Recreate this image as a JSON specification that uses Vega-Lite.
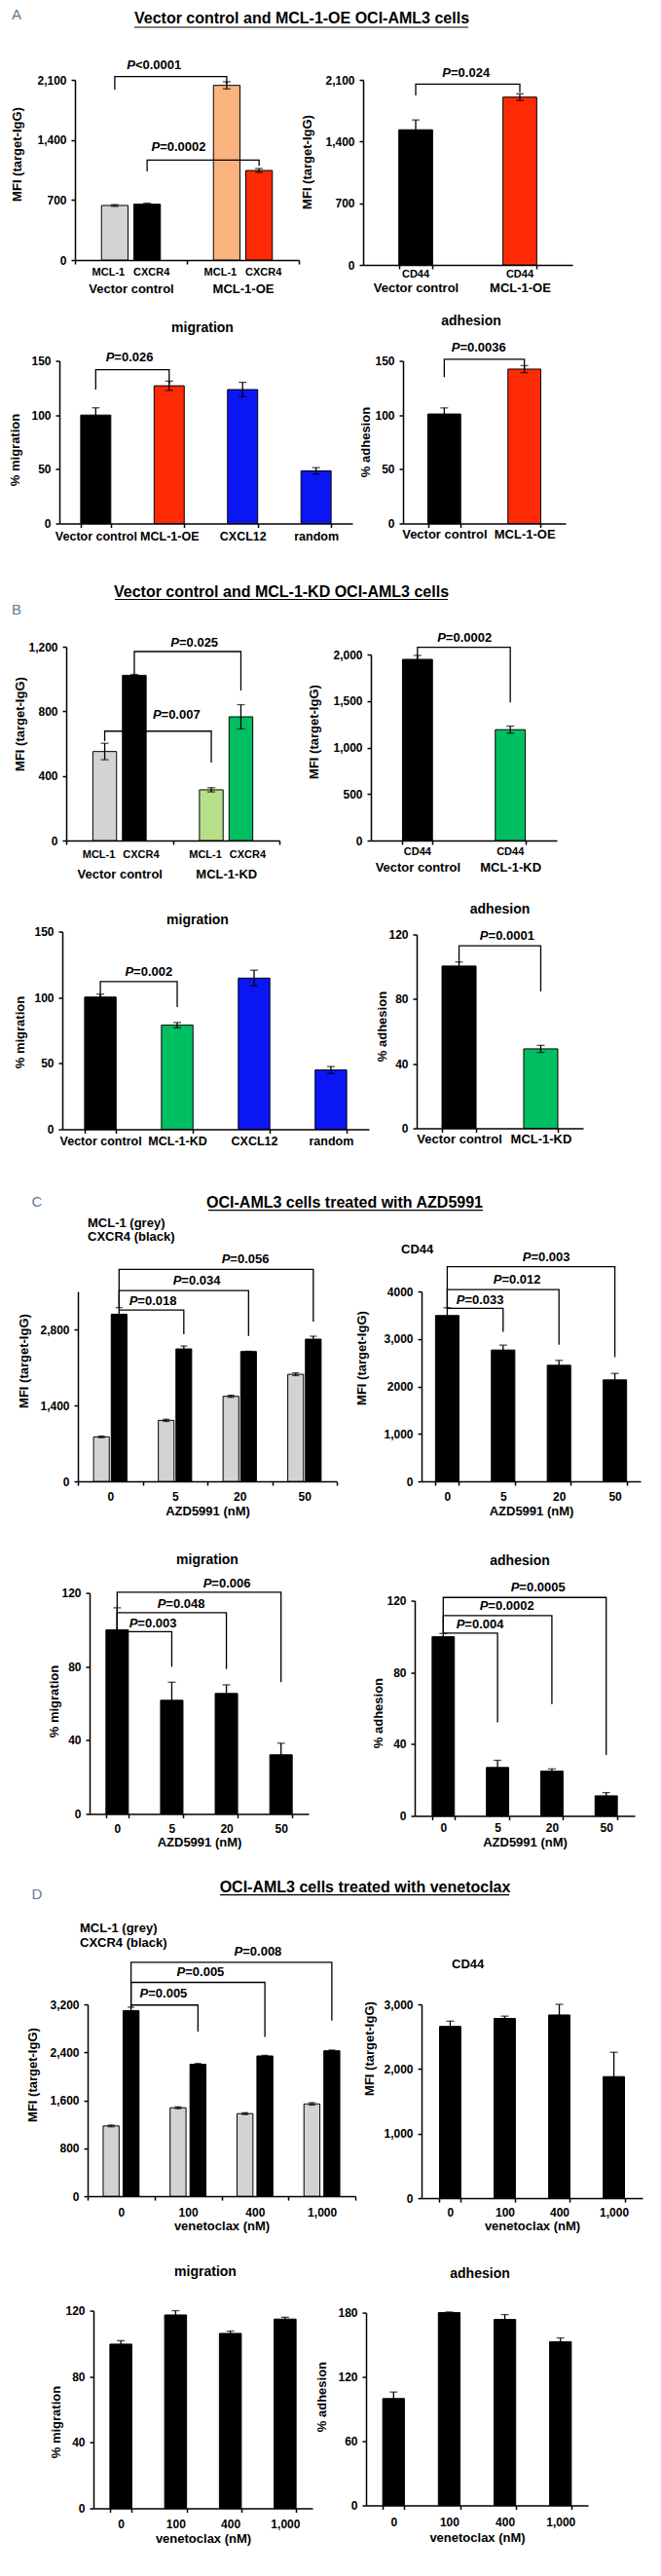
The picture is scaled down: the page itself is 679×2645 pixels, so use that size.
{
"$schema":"https://vega.github.io/schema/vega-lite/v6.json",
"padding":0,"background":"white","spacing":0.01,
"resolve":{"scale":{"xOffset":"independent"}},
"config":{
"font":"Liberation Sans","view":{"stroke":null},
"axis":{"grid":false,"domainColor":"#000","domainWidth":1.5,"tickColor":"#000","tickWidth":1.5,"tickSize":4,"labelColor":"#000","labelFont":"Liberation Sans","labelFontSize":12,"labelFontWeight":"bold","titleColor":"#000","titleFont":"Liberation Sans","titleFontSize":13,"titleFontWeight":"bold","labelPadding":5},
"axisX":{"labelAngle":0,"tickBand":"extent","labelFontSize":13,"labelOverlap":false,"labelLimit":0,"titleBaseline":"middle"},
"axisY":{"titleBaseline":"middle","titleAlign":"center","labelOverlap":false},
"title":{"font":"Liberation Sans","fontSize":14,"fontWeight":"bold","color":"#000","frame":"group"},
"text":{"font":"Liberation Sans","fontSize":13,"fontWeight":"bold","color":"#000"},
"bar":{"stroke":"#000","strokeWidth":1},
"rule":{"color":"#000","strokeWidth":1.3},
"line":{"color":"#000","strokeWidth":1.3},
"tick":{"color":"#000","thickness":1.3}
},
"vconcat":[
{"width":679,"height":60.5,"data":{"values":[{"panel":"A","heading":"Vector control and MCL-1-OE OCI-AML3 cells"}]},
"layer":[
{"mark":{"type":"text","fontSize":15,"fontWeight":"normal","color":"#5b7b9a"},"encoding":{"x":{"datum":17,"type":"quantitative","scale":{"domain":[0,679],"nice":false,"zero":false},"axis":null},"y":{"datum":15,"type":"quantitative","scale":{"domain":[0,60.5],"nice":false,"zero":false,"reverse":true},"axis":null},"text":{"field":"panel"}}},
{"mark":{"type":"text","fontSize":16},"encoding":{"x":{"datum":310,"type":"quantitative"},"y":{"datum":19,"type":"quantitative"},"text":{"field":"heading"}}},
{"mark":{"type":"rule","strokeWidth":1.2},"encoding":{"x":{"datum":138,"type":"quantitative"},"x2":{"datum":481},"y":{"datum":28,"type":"quantitative"}}}
]},
{"spacing":18.5,"vconcat":[
{"bounds":"flush","spacing":0.01,"hconcat":[
{"width":77,"height":1,"data":{"values":[]},"mark":"point","encoding":{}},
{"bounds":"flush","spacing":66,"hconcat":[
{"width":230,"height":185,
"encoding":{"x":{"field":"group","type":"nominal","sort":null,"title":null,"scale":{"domain":["Vector control","MCL-1-OE"],"paddingInner":0,"paddingOuter":0},"axis":{"labelPadding":19.5}},
"xOffset":{"field":"marker","type":"nominal","sort":null,"scale":{"domain":["MCL-1","CXCR4"],"paddingInner":0.18,"paddingOuter":0.82}}},
"layer":[
{"data":{"values":[
{"group":"Vector control","marker":"MCL-1","mfi":636,"lo":626,"hi":646},
{"group":"Vector control","marker":"CXCR4","mfi":651,"lo":639,"hi":663},
{"group":"MCL-1-OE","marker":"MCL-1","mfi":2036,"lo":1994,"hi":2078},
{"group":"MCL-1-OE","marker":"CXCR4","mfi":1044,"lo":1021,"hi":1067}]},
"layer":[
{"mark":"bar","encoding":{"y":{"field":"mfi","type":"quantitative","title":"MFI (target-IgG)","scale":{"domain":[0,2100],"nice":false},"axis":{"values":[0,700,1400,2100],"labelExpr":"format(datum.value, ',')","titleX":-60,"titleY":76}},"color":{"condition":[{"test":"datum.group === 'Vector control' && datum.marker === 'MCL-1'","value":"#d3d3d3"},{"test":"datum.group === 'MCL-1-OE' && datum.marker === 'MCL-1'","value":"#fab27f"},{"test":"datum.group === 'MCL-1-OE' && datum.marker === 'CXCR4'","value":"#ff2b06"}],"value":"#000000"}}},
{"mark":"rule","encoding":{"y":{"field":"lo","type":"quantitative","title":"MFI (target-IgG)"},"y2":{"field":"hi"}}},
{"mark":{"type":"tick","orient":"horizontal","size":8},"encoding":{"y":{"field":"lo","type":"quantitative","title":"MFI (target-IgG)"}}},
{"mark":{"type":"tick","orient":"horizontal","size":8},"encoding":{"y":{"field":"hi","type":"quantitative","title":"MFI (target-IgG)"}}},
{"transform":[{"filter":"datum.marker === 'MCL-1'"}],"mark":{"type":"text","dy":13,"dx":-6.5,"fontSize":11},"encoding":{"y":{"datum":0,"type":"quantitative","title":"MFI (target-IgG)"},"text":{"field":"marker"}}},
{"transform":[{"filter":"datum.marker === 'CXCR4'"}],"mark":{"type":"text","dy":13,"dx":4.5,"fontSize":11},"encoding":{"y":{"datum":0,"type":"quantitative","title":"MFI (target-IgG)"},"text":{"field":"marker"}}}
]},
{"data":{"values":[
{"bracket":1,"group":"Vector control","marker":"MCL-1","level":1987,"step":1},
{"bracket":1,"group":"Vector control","marker":"MCL-1","level":2138,"step":2},
{"bracket":1,"group":"MCL-1-OE","marker":"MCL-1","level":2138,"step":3},
{"bracket":1,"group":"MCL-1-OE","marker":"MCL-1","level":2051,"step":4},
{"bracket":2,"group":"Vector control","marker":"CXCR4","level":1033,"step":1},
{"bracket":2,"group":"Vector control","marker":"CXCR4","level":1165,"step":2},
{"bracket":2,"group":"MCL-1-OE","marker":"CXCR4","level":1165,"step":3},
{"bracket":2,"group":"MCL-1-OE","marker":"CXCR4","level":1097,"step":4}]},
"mark":"line","encoding":{"y":{"field":"level","type":"quantitative","title":"MFI (target-IgG)"},"detail":{"field":"bracket"},"order":{"field":"step"}}},
{"data":{"values":[{"group":"Vector control","marker":"MCL-1","level":2270,"p":"<0.0001"}]},"layer":[
{"mark":{"type":"text","align":"right","fontStyle":"italic","dx":21},"encoding":{"y":{"field":"level","type":"quantitative","title":"MFI (target-IgG)"},"text":{"value":"P"}}},
{"mark":{"type":"text","align":"left","dx":21},"encoding":{"y":{"field":"level","type":"quantitative","title":"MFI (target-IgG)"},"text":{"field":"p"}}}]},
{"data":{"values":[{"group":"Vector control","marker":"CXCR4","level":1313,"p":"=0.0002"}]},"layer":[
{"mark":{"type":"text","align":"right","fontStyle":"italic","dx":13},"encoding":{"y":{"field":"level","type":"quantitative","title":"MFI (target-IgG)"},"text":{"value":"P"}}},
{"mark":{"type":"text","align":"left","dx":13},"encoding":{"y":{"field":"level","type":"quantitative","title":"MFI (target-IgG)"},"text":{"field":"p"}}}]}
]},
{"width":215,"height":190,
"encoding":{"x":{"field":"group","type":"nominal","sort":null,"title":null,"scale":{"domain":["Vector control","MCL-1-OE"],"paddingInner":0.676,"paddingOuter":0.343},"axis":{"labelPadding":13.5}}},
"layer":[
{"data":{"values":[
{"group":"Vector control","marker":"CD44","mfi":1534,"lo":1423,"hi":1645},
{"group":"MCL-1-OE","marker":"CD44","mfi":1904,"lo":1865,"hi":1943}]},
"layer":[
{"mark":"bar","encoding":{"y":{"field":"mfi","type":"quantitative","title":"MFI (target-IgG)","scale":{"domain":[0,2100],"nice":false},"axis":{"values":[0,700,1400,2100],"labelExpr":"format(datum.value, ',')","titleX":-58,"titleY":84}},"color":{"condition":[{"test":"datum.group === 'MCL-1-OE'","value":"#ff2b06"}],"value":"#000000"}}},
{"mark":"rule","encoding":{"y":{"field":"lo","type":"quantitative","title":"MFI (target-IgG)"},"y2":{"field":"hi"}}},
{"mark":{"type":"tick","orient":"horizontal","size":8},"encoding":{"y":{"field":"lo","type":"quantitative","title":"MFI (target-IgG)"}}},
{"mark":{"type":"tick","orient":"horizontal","size":8},"encoding":{"y":{"field":"hi","type":"quantitative","title":"MFI (target-IgG)"}}},
{"mark":{"type":"text","dy":10,"fontSize":11},"encoding":{"y":{"datum":0,"type":"quantitative","title":"MFI (target-IgG)"},"text":{"field":"marker"}}}
]},
{"data":{"values":[
{"bracket":1,"group":"Vector control","level":1922,"step":1},
{"bracket":1,"group":"Vector control","level":2052,"step":2},
{"bracket":1,"group":"MCL-1-OE","level":2052,"step":3},
{"bracket":1,"group":"MCL-1-OE","level":1959,"step":4}]},
"mark":"line","encoding":{"y":{"field":"level","type":"quantitative","title":"MFI (target-IgG)"},"detail":{"field":"bracket"},"order":{"field":"step"}}},
{"data":{"values":[{"group":"Vector control","level":2181,"p":"=0.024"}]},"layer":[
{"mark":{"type":"text","align":"right","fontStyle":"italic","dx":36},"encoding":{"y":{"field":"level","type":"quantitative","title":"MFI (target-IgG)"},"text":{"value":"P"}}},
{"mark":{"type":"text","align":"left","dx":36},"encoding":{"y":{"field":"level","type":"quantitative","title":"MFI (target-IgG)"},"text":{"field":"p"}}}]}
]}
]}
]},
{"bounds":"flush","spacing":0.01,"hconcat":[
{"width":61,"height":1,"data":{"values":[]},"mark":"point","encoding":{}},
{"bounds":"flush","spacing":52,"hconcat":[
{"width":301,"height":167,"title":{"text":"migration","anchor":"middle","offset":16.7,"dx":-3.5},
"encoding":{"x":{"field":"group","type":"nominal","sort":null,"title":null,"scale":{"domain":["Vector control","MCL-1-OE","CXCL12","random"],"paddingInner":0.59,"paddingOuter":0.29},"axis":{"labelPadding":2.5,"labelFontSize":12.5}}},
"layer":[
{"data":{"values":[
{"group":"Vector control","pct":100,"lo":93.3,"hi":106.7},
{"group":"MCL-1-OE","pct":127,"lo":122.7,"hi":131.3},
{"group":"CXCL12","pct":123.5,"lo":116.8,"hi":130.2},
{"group":"random","pct":48.5,"lo":45.5,"hi":51.5}]},
"layer":[
{"mark":"bar","encoding":{"y":{"field":"pct","type":"quantitative","title":"% migration","scale":{"domain":[0,150],"nice":false},"axis":{"values":[0,50,100,150],"titleX":-46,"titleY":91}},"color":{"condition":[{"test":"datum.group === 'MCL-1-OE'","value":"#ff2b06"},{"test":"datum.group === 'CXCL12' || datum.group === 'random'","value":"#0b16f5"}],"value":"#000000"}}},
{"mark":"rule","encoding":{"y":{"field":"lo","type":"quantitative","title":"% migration"},"y2":{"field":"hi"}}},
{"mark":{"type":"tick","orient":"horizontal","size":8},"encoding":{"y":{"field":"lo","type":"quantitative","title":"% migration"}}},
{"mark":{"type":"tick","orient":"horizontal","size":8},"encoding":{"y":{"field":"hi","type":"quantitative","title":"% migration"}}}
]},
{"data":{"values":[
{"bracket":1,"group":"Vector control","level":123.5,"step":1},
{"bracket":1,"group":"Vector control","level":141.8,"step":2},
{"bracket":1,"group":"MCL-1-OE","level":141.8,"step":3},
{"bracket":1,"group":"MCL-1-OE","level":128.7,"step":4}]},
"mark":"line","encoding":{"y":{"field":"level","type":"quantitative","title":"% migration"},"detail":{"field":"bracket"},"order":{"field":"step"}}},
{"data":{"values":[{"group":"Vector control","level":153,"p":"=0.026"}]},"layer":[
{"mark":{"type":"text","align":"right","fontStyle":"italic","dx":19},"encoding":{"y":{"field":"level","type":"quantitative","title":"% migration"},"text":{"value":"P"}}},
{"mark":{"type":"text","align":"left","dx":19},"encoding":{"y":{"field":"level","type":"quantitative","title":"% migration"},"text":{"field":"p"}}}]}
]},
{"width":167,"height":167,"title":{"text":"adhesion","anchor":"middle","offset":14.6,"dx":-13.5},
"encoding":{"x":{"field":"group","type":"nominal","sort":null,"title":null,"scale":{"domain":["Vector control","MCL-1-OE"],"paddingInner":0.59,"paddingOuter":0.31},"axis":{"labelPadding":0.5}}},
"layer":[
{"data":{"values":[
{"group":"Vector control","pct":101,"lo":95.4,"hi":106.6},
{"group":"MCL-1-OE","pct":142.4,"lo":139.2,"hi":145.6}]},
"layer":[
{"mark":"bar","encoding":{"y":{"field":"pct","type":"quantitative","title":"% adhesion","scale":{"domain":[0,150],"nice":false},"axis":{"values":[0,50,100,150],"titleX":-39,"titleY":83}},"color":{"condition":[{"test":"datum.group === 'MCL-1-OE'","value":"#ff2b06"}],"value":"#000000"}}},
{"mark":"rule","encoding":{"y":{"field":"lo","type":"quantitative","title":"% adhesion"},"y2":{"field":"hi"}}},
{"mark":{"type":"tick","orient":"horizontal","size":8},"encoding":{"y":{"field":"lo","type":"quantitative","title":"% adhesion"}}},
{"mark":{"type":"tick","orient":"horizontal","size":8},"encoding":{"y":{"field":"hi","type":"quantitative","title":"% adhesion"}}}
]},
{"data":{"values":[
{"bracket":1,"group":"Vector control","level":135,"step":1},
{"bracket":1,"group":"Vector control","level":151.5,"step":2},
{"bracket":1,"group":"MCL-1-OE","level":151.5,"step":3},
{"bracket":1,"group":"MCL-1-OE","level":143,"step":4}]},
"mark":"line","encoding":{"y":{"field":"level","type":"quantitative","title":"% adhesion"},"detail":{"field":"bracket"},"order":{"field":"step"}}},
{"data":{"values":[{"group":"Vector control","level":162,"p":"=0.0036"}]},"layer":[
{"mark":{"type":"text","align":"right","fontStyle":"italic","dx":16},"encoding":{"y":{"field":"level","type":"quantitative","title":"% adhesion"},"text":{"value":"P"}}},
{"mark":{"type":"text","align":"left","dx":16},"encoding":{"y":{"field":"level","type":"quantitative","title":"% adhesion"},"text":{"field":"p"}}}]}
]}
]}
]}
]},
{"width":679,"height":92,"data":{"values":[{"panel":"B","heading":"Vector control and MCL-1-KD OCI-AML3 cells"}]},
"layer":[
{"mark":{"type":"text","fontSize":15,"fontWeight":"normal","color":"#5b7b9a"},"encoding":{"x":{"datum":17,"type":"quantitative","scale":{"domain":[0,679],"nice":false,"zero":false},"axis":null},"y":{"datum":68.5,"type":"quantitative","scale":{"domain":[0,92],"nice":false,"zero":false,"reverse":true},"axis":null},"text":{"field":"panel"}}},
{"mark":{"type":"text","fontSize":16},"encoding":{"x":{"datum":289,"type":"quantitative"},"y":{"datum":50.5,"type":"quantitative"},"text":{"field":"heading"}}},
{"mark":{"type":"rule","strokeWidth":1.2},"encoding":{"x":{"datum":118,"type":"quantitative"},"x2":{"datum":460},"y":{"datum":58.5,"type":"quantitative"}}}
]},
{"spacing":21.5,"vconcat":[
{"bounds":"flush","spacing":0.01,"hconcat":[
{"width":68,"height":1,"data":{"values":[]},"mark":"point","encoding":{}},
{"bounds":"flush","spacing":94,"hconcat":[
{"width":219,"height":199,
"encoding":{"x":{"field":"group","type":"nominal","sort":null,"title":null,"scale":{"domain":["Vector control","MCL-1-KD"],"paddingInner":0,"paddingOuter":0},"axis":{"labelPadding":24.5}},
"xOffset":{"field":"marker","type":"nominal","sort":null,"scale":{"domain":["MCL-1","CXCR4"],"paddingInner":0.2,"paddingOuter":0.9}}},
"layer":[
{"data":{"values":[
{"group":"Vector control","marker":"MCL-1","mfi":551,"lo":500,"hi":602},
{"group":"Vector control","marker":"CXCR4","mfi":1023,"lo":1018,"hi":1028},
{"group":"MCL-1-KD","marker":"MCL-1","mfi":314,"lo":301,"hi":327},
{"group":"MCL-1-KD","marker":"CXCR4","mfi":766,"lo":691,"hi":841}]},
"layer":[
{"mark":"bar","encoding":{"y":{"field":"mfi","type":"quantitative","title":"MFI (target-IgG)","scale":{"domain":[0,1200],"nice":false},"axis":{"values":[0,400,800,1200],"labelExpr":"format(datum.value, ',')","titleX":-48,"titleY":79}},"color":{"condition":[{"test":"datum.group === 'Vector control' && datum.marker === 'MCL-1'","value":"#d3d3d3"},{"test":"datum.group === 'MCL-1-KD' && datum.marker === 'MCL-1'","value":"#b7df8a"},{"test":"datum.group === 'MCL-1-KD' && datum.marker === 'CXCR4'","value":"#00bf62"}],"value":"#000000"}}},
{"mark":"rule","encoding":{"y":{"field":"lo","type":"quantitative","title":"MFI (target-IgG)"},"y2":{"field":"hi"}}},
{"mark":{"type":"tick","orient":"horizontal","size":8},"encoding":{"y":{"field":"lo","type":"quantitative","title":"MFI (target-IgG)"}}},
{"mark":{"type":"tick","orient":"horizontal","size":8},"encoding":{"y":{"field":"hi","type":"quantitative","title":"MFI (target-IgG)"}}},
{"transform":[{"filter":"datum.marker === 'MCL-1'"}],"mark":{"type":"text","dy":15,"dx":-6,"fontSize":11},"encoding":{"y":{"datum":0,"type":"quantitative","title":"MFI (target-IgG)"},"text":{"field":"marker"}}},
{"transform":[{"filter":"datum.marker === 'CXCR4'"}],"mark":{"type":"text","dy":15,"dx":7,"fontSize":11},"encoding":{"y":{"datum":0,"type":"quantitative","title":"MFI (target-IgG)"},"text":{"field":"marker"}}}
]},
{"data":{"values":[
{"bracket":1,"group":"Vector control","marker":"CXCR4","level":1019,"step":1},
{"bracket":1,"group":"Vector control","marker":"CXCR4","level":1170,"step":2},
{"bracket":1,"group":"MCL-1-KD","marker":"CXCR4","level":1170,"step":3},
{"bracket":1,"group":"MCL-1-KD","marker":"CXCR4","level":929,"step":4},
{"bracket":2,"group":"Vector control","marker":"MCL-1","level":615,"step":1},
{"bracket":2,"group":"Vector control","marker":"MCL-1","level":677,"step":2},
{"bracket":2,"group":"MCL-1-KD","marker":"MCL-1","level":677,"step":3},
{"bracket":2,"group":"MCL-1-KD","marker":"MCL-1","level":483,"step":4}]},
"mark":"line","encoding":{"y":{"field":"level","type":"quantitative","title":"MFI (target-IgG)"},"detail":{"field":"bracket"},"order":{"field":"step"}}},
{"data":{"values":[{"group":"Vector control","marker":"CXCR4","level":1226,"p":"=0.025"}]},"layer":[
{"mark":{"type":"text","align":"right","fontStyle":"italic","dx":46},"encoding":{"y":{"field":"level","type":"quantitative","title":"MFI (target-IgG)"},"text":{"value":"P"}}},
{"mark":{"type":"text","align":"left","dx":46},"encoding":{"y":{"field":"level","type":"quantitative","title":"MFI (target-IgG)"},"text":{"field":"p"}}}]},
{"data":{"values":[{"group":"Vector control","marker":"MCL-1","level":778,"p":"=0.007"}]},"layer":[
{"mark":{"type":"text","align":"right","fontStyle":"italic","dx":58},"encoding":{"y":{"field":"level","type":"quantitative","title":"MFI (target-IgG)"},"text":{"value":"P"}}},
{"mark":{"type":"text","align":"left","dx":58},"encoding":{"y":{"field":"level","type":"quantitative","title":"MFI (target-IgG)"},"text":{"field":"p"}}}]}
]},
{"bounds":"flush","spacing":0.01,"vconcat":[
{"width":1,"height":8,"data":{"values":[]},"mark":"point","encoding":{}},
{"width":191,"height":191,
"encoding":{"x":{"field":"group","type":"nominal","sort":null,"title":null,"scale":{"domain":["Vector control","MCL-1-KD"],"paddingInner":0.677,"paddingOuter":0.34},"axis":{"labelPadding":17.5}}},
"layer":[
{"data":{"values":[
{"group":"Vector control","marker":"CD44","mfi":1948,"lo":1906,"hi":1990},
{"group":"MCL-1-KD","marker":"CD44","mfi":1192,"lo":1154,"hi":1230}]},
"layer":[
{"mark":"bar","encoding":{"y":{"field":"mfi","type":"quantitative","title":"MFI (target-IgG)","scale":{"domain":[0,2000],"nice":false},"axis":{"values":[0,500,1000,1500,2000],"labelExpr":"format(datum.value, ',')","titleX":-59,"titleY":79}},"color":{"condition":[{"test":"datum.group === 'MCL-1-KD'","value":"#00bf62"}],"value":"#000000"}}},
{"mark":"rule","encoding":{"y":{"field":"lo","type":"quantitative","title":"MFI (target-IgG)"},"y2":{"field":"hi"}}},
{"mark":{"type":"tick","orient":"horizontal","size":8},"encoding":{"y":{"field":"lo","type":"quantitative","title":"MFI (target-IgG)"}}},
{"mark":{"type":"tick","orient":"horizontal","size":8},"encoding":{"y":{"field":"hi","type":"quantitative","title":"MFI (target-IgG)"}}},
{"mark":{"type":"text","dy":12,"fontSize":11},"encoding":{"y":{"datum":0,"type":"quantitative","title":"MFI (target-IgG)"},"text":{"field":"marker"}}}
]},
{"data":{"values":[
{"bracket":1,"group":"Vector control","level":1948,"step":1},
{"bracket":1,"group":"Vector control","level":2077,"step":2},
{"bracket":1,"group":"MCL-1-KD","level":2077,"step":3},
{"bracket":1,"group":"MCL-1-KD","level":1486,"step":4}]},
"mark":"line","encoding":{"y":{"field":"level","type":"quantitative","title":"MFI (target-IgG)"},"detail":{"field":"bracket"},"order":{"field":"step"}}},
{"data":{"values":[{"group":"Vector control","level":2175,"p":"=0.0002"}]},"layer":[
{"mark":{"type":"text","align":"right","fontStyle":"italic","dx":29},"encoding":{"y":{"field":"level","type":"quantitative","title":"MFI (target-IgG)"},"text":{"value":"P"}}},
{"mark":{"type":"text","align":"left","dx":29},"encoding":{"y":{"field":"level","type":"quantitative","title":"MFI (target-IgG)"},"text":{"field":"p"}}}]}
]}
]}
]}
]},
{"bounds":"flush","spacing":0.01,"hconcat":[
{"width":64,"height":1,"data":{"values":[]},"mark":"point","encoding":{}},
{"bounds":"flush","spacing":49,"hconcat":[
{"width":315,"height":203,"title":{"text":"migration","anchor":"middle","offset":0,"dy":1.5,"dx":-18.5},
"encoding":{"x":{"field":"group","type":"nominal","sort":null,"title":null,"scale":{"domain":["Vector control","MCL-1-KD","CXCL12","random"],"paddingInner":0.59,"paddingOuter":0.29},"axis":{"labelPadding":1.5,"labelFontSize":12.5}}},
"layer":[
{"data":{"values":[
{"group":"Vector control","pct":100.3,"lo":98.1,"hi":102.5},
{"group":"MCL-1-KD","pct":79,"lo":77,"hi":81},
{"group":"CXCL12","pct":114.7,"lo":108.7,"hi":120.7},
{"group":"random","pct":45,"lo":42.4,"hi":47.6}]},
"layer":[
{"mark":"bar","encoding":{"y":{"field":"pct","type":"quantitative","title":"% migration","scale":{"domain":[0,150],"nice":false},"axis":{"values":[0,50,100,150],"titleX":-44,"titleY":103}},"color":{"condition":[{"test":"datum.group === 'MCL-1-KD'","value":"#00bf62"},{"test":"datum.group === 'CXCL12' || datum.group === 'random'","value":"#0b16f5"}],"value":"#000000"}}},
{"mark":"rule","encoding":{"y":{"field":"lo","type":"quantitative","title":"% migration"},"y2":{"field":"hi"}}},
{"mark":{"type":"tick","orient":"horizontal","size":8},"encoding":{"y":{"field":"lo","type":"quantitative","title":"% migration"}}},
{"mark":{"type":"tick","orient":"horizontal","size":8},"encoding":{"y":{"field":"hi","type":"quantitative","title":"% migration"}}}
]},
{"data":{"values":[
{"bracket":1,"group":"Vector control","level":100,"step":1},
{"bracket":1,"group":"Vector control","level":112,"step":2},
{"bracket":1,"group":"MCL-1-KD","level":112,"step":3},
{"bracket":1,"group":"MCL-1-KD","level":92.7,"step":4}]},
"mark":"line","encoding":{"y":{"field":"level","type":"quantitative","title":"% migration"},"detail":{"field":"bracket"},"order":{"field":"step"}}},
{"data":{"values":[{"group":"Vector control","level":119,"p":"=0.002"}]},"layer":[
{"mark":{"type":"text","align":"right","fontStyle":"italic","dx":34},"encoding":{"y":{"field":"level","type":"quantitative","title":"% migration"},"text":{"value":"P"}}},
{"mark":{"type":"text","align":"left","dx":34},"encoding":{"y":{"field":"level","type":"quantitative","title":"% migration"},"text":{"field":"p"}}}]}
]},
{"bounds":"flush","spacing":0.01,"vconcat":[
{"width":1,"height":3,"data":{"values":[]},"mark":"point","encoding":{}},
{"width":171,"height":199,"title":{"text":"adhesion","anchor":"middle","offset":12.7,"dx":0},
"encoding":{"x":{"field":"group","type":"nominal","sort":null,"title":null,"scale":{"domain":["Vector control","MCL-1-KD"],"paddingInner":0.583,"paddingOuter":0.31},"axis":{"labelPadding":0.5}}},
"layer":[
{"data":{"values":[
{"group":"Vector control","pct":100.5,"lo":98,"hi":103},
{"group":"MCL-1-KD","pct":49.2,"lo":47,"hi":51.4}]},
"layer":[
{"mark":"bar","encoding":{"y":{"field":"pct","type":"quantitative","title":"% adhesion","scale":{"domain":[0,120],"nice":false},"axis":{"values":[0,40,80,120],"titleX":-36,"titleY":94}},"color":{"condition":[{"test":"datum.group === 'MCL-1-KD'","value":"#00bf62"}],"value":"#000000"}}},
{"mark":"rule","encoding":{"y":{"field":"lo","type":"quantitative","title":"% adhesion"},"y2":{"field":"hi"}}},
{"mark":{"type":"tick","orient":"horizontal","size":8},"encoding":{"y":{"field":"lo","type":"quantitative","title":"% adhesion"}}},
{"mark":{"type":"tick","orient":"horizontal","size":8},"encoding":{"y":{"field":"hi","type":"quantitative","title":"% adhesion"}}}
]},
{"data":{"values":[
{"bracket":1,"group":"Vector control","level":102,"step":1},
{"bracket":1,"group":"Vector control","level":113,"step":2},
{"bracket":1,"group":"MCL-1-KD","level":113,"step":3},
{"bracket":1,"group":"MCL-1-KD","level":84.8,"step":4}]},
"mark":"line","encoding":{"y":{"field":"level","type":"quantitative","title":"% adhesion"},"detail":{"field":"bracket"},"order":{"field":"step"}}},
{"data":{"values":[{"group":"Vector control","level":119,"p":"=0.0001"}]},"layer":[
{"mark":{"type":"text","align":"right","fontStyle":"italic","dx":30},"encoding":{"y":{"field":"level","type":"quantitative","title":"% adhesion"},"text":{"value":"P"}}},
{"mark":{"type":"text","align":"left","dx":30},"encoding":{"y":{"field":"level","type":"quantitative","title":"% adhesion"},"text":{"field":"p"}}}]}
]}
]}
]}
]}
]},
{"width":679,"height":70.5,"data":{"values":[{"panel":"C","heading":"OCI-AML3 cells treated with AZD5991"}]},
"layer":[
{"mark":{"type":"text","fontSize":15,"fontWeight":"normal","color":"#5b7b9a"},"encoding":{"x":{"datum":38,"type":"quantitative","scale":{"domain":[0,679],"nice":false,"zero":false},"axis":null},"y":{"datum":55.5,"type":"quantitative","scale":{"domain":[0,70.5],"nice":false,"zero":false,"reverse":true},"axis":null},"text":{"field":"panel"}}},
{"mark":{"type":"text","fontSize":16},"encoding":{"x":{"datum":354,"type":"quantitative"},"y":{"datum":56.5,"type":"quantitative"},"text":{"field":"heading"}}},
{"mark":{"type":"rule","strokeWidth":1.2},"encoding":{"x":{"datum":214,"type":"quantitative"},"x2":{"datum":496},"y":{"datum":64.5,"type":"quantitative"}}}
]},
{"spacing":35.5,"vconcat":[
{"bounds":"flush","spacing":0.01,"hconcat":[
{"width":80,"height":1,"data":{"values":[]},"mark":"point","encoding":{}},
{"bounds":"flush","spacing":87,"hconcat":[
{"width":266,"height":195,"title":{"text":["MCL-1 (grey)","CXCR4 (black)"],"anchor":"start","offset":9.7,"dx":10,"fontSize":13,"lineHeight":14},
"encoding":{"x":{"field":"dose","type":"nominal","sort":null,"title":"AZD5991 (nM)","scale":{"domain":["0","5","20","50"],"paddingInner":0,"paddingOuter":0},"axis":{"labelPadding":6,"labelFontSize":12,"titleY":30}},
"xOffset":{"field":"marker","type":"nominal","sort":null,"scale":{"domain":["MCL-1","CXCR4"],"paddingInner":0.11,"paddingOuter":0.89}}},
"layer":[
{"data":{"values":[
{"dose":"0","marker":"MCL-1","mfi":820,"lo":805,"hi":835},
{"dose":"0","marker":"CXCR4","mfi":3081,"lo":2961,"hi":3201},
{"dose":"5","marker":"MCL-1","mfi":1125,"lo":1105,"hi":1145},
{"dose":"5","marker":"CXCR4","mfi":2441,"lo":2387,"hi":2495},
{"dose":"20","marker":"MCL-1","mfi":1568,"lo":1548,"hi":1588},
{"dose":"20","marker":"CXCR4","mfi":2393,"lo":2388,"hi":2398},
{"dose":"50","marker":"MCL-1","mfi":1974,"lo":1949,"hi":1999},
{"dose":"50","marker":"CXCR4","mfi":2621,"lo":2567,"hi":2675}]},
"layer":[
{"mark":"bar","encoding":{"y":{"field":"mfi","type":"quantitative","title":"MFI (target-IgG)","scale":{"domain":[0,3500],"nice":false},"axis":{"values":[0,700,1400,2100,2800,3500],"labelExpr":"format(datum.value, ',')","titleX":-56,"titleY":71}},"color":{"condition":[{"test":"datum.marker === 'MCL-1'","value":"#d3d3d3"}],"value":"#000000"}}},
{"mark":"rule","encoding":{"y":{"field":"lo","type":"quantitative","title":"MFI (target-IgG)"},"y2":{"field":"hi"}}},
{"mark":{"type":"tick","orient":"horizontal","size":7},"encoding":{"y":{"field":"lo","type":"quantitative","title":"MFI (target-IgG)"}}},
{"mark":{"type":"tick","orient":"horizontal","size":7},"encoding":{"y":{"field":"hi","type":"quantitative","title":"MFI (target-IgG)"}}}
]},
{"data":{"values":[
{"bracket":1,"dose":"0","marker":"CXCR4","level":3159,"step":1},
{"bracket":1,"dose":"5","marker":"CXCR4","level":3159,"step":2},
{"bracket":1,"dose":"5","marker":"CXCR4","level":2710,"step":3},
{"bracket":2,"dose":"0","marker":"CXCR4","level":3201,"step":1},
{"bracket":2,"dose":"0","marker":"CXCR4","level":3518,"step":2},
{"bracket":2,"dose":"20","marker":"CXCR4","level":3518,"step":3},
{"bracket":2,"dose":"20","marker":"CXCR4","level":2680,"step":4},
{"bracket":3,"dose":"0","marker":"CXCR4","level":3201,"step":1},
{"bracket":3,"dose":"0","marker":"CXCR4","level":3907,"step":2},
{"bracket":3,"dose":"50","marker":"CXCR4","level":3907,"step":3},
{"bracket":3,"dose":"50","marker":"CXCR4","level":2943,"step":4}]},
"mark":"line","encoding":{"y":{"field":"level","type":"quantitative","title":"MFI (target-IgG)"},"detail":{"field":"bracket"},"order":{"field":"step"}}},
{"data":{"values":[{"dose":"0","marker":"CXCR4","level":3320,"p":"=0.018"}]},"layer":[
{"mark":{"type":"text","align":"right","fontStyle":"italic","dx":19},"encoding":{"y":{"field":"level","type":"quantitative","title":"MFI (target-IgG)"},"text":{"value":"P"}}},
{"mark":{"type":"text","align":"left","dx":19},"encoding":{"y":{"field":"level","type":"quantitative","title":"MFI (target-IgG)"},"text":{"field":"p"}}}]},
{"data":{"values":[{"dose":"0","marker":"CXCR4","level":3692,"p":"=0.034"}]},"layer":[
{"mark":{"type":"text","align":"right","fontStyle":"italic","dx":64},"encoding":{"y":{"field":"level","type":"quantitative","title":"MFI (target-IgG)"},"text":{"value":"P"}}},
{"mark":{"type":"text","align":"left","dx":64},"encoding":{"y":{"field":"level","type":"quantitative","title":"MFI (target-IgG)"},"text":{"field":"p"}}}]},
{"data":{"values":[{"dose":"0","marker":"CXCR4","level":4098,"p":"=0.056"}]},"layer":[
{"mark":{"type":"text","align":"right","fontStyle":"italic","dx":114},"encoding":{"y":{"field":"level","type":"quantitative","title":"MFI (target-IgG)"},"text":{"value":"P"}}},
{"mark":{"type":"text","align":"left","dx":114},"encoding":{"y":{"field":"level","type":"quantitative","title":"MFI (target-IgG)"},"text":{"field":"p"}}}]}
]},
{"width":225,"height":195,"title":{"text":"CD44","anchor":"start","offset":0,"dy":4.9,"dx":-21,"fontSize":13},
"encoding":{"x":{"field":"dose","type":"nominal","sort":null,"title":"AZD5991 (nM)","scale":{"domain":["0","5","20","50"],"paddingInner":0.58,"paddingOuter":0.25},"axis":{"labelPadding":6,"labelFontSize":12,"titleY":30}}},
"layer":[
{"data":{"values":[
{"dose":"0","mfi":3493,"lo":3329,"hi":3657},
{"dose":"5","mfi":2767,"lo":2664,"hi":2870},
{"dose":"20","mfi":2445,"lo":2342,"hi":2548},
{"dose":"50","mfi":2137,"lo":2000,"hi":2274}]},
"layer":[
{"mark":{"type":"bar","color":"#000"},"encoding":{"y":{"field":"mfi","type":"quantitative","title":"MFI (target-IgG)","scale":{"domain":[0,4000],"nice":false},"axis":{"values":[0,1000,2000,3000,4000],"labelExpr":"datum.value == 4000 || datum.value == 2000 ? '' + datum.value : format(datum.value, ',')","titleX":-62,"titleY":68}}}},
{"mark":"rule","encoding":{"y":{"field":"lo","type":"quantitative","title":"MFI (target-IgG)"},"y2":{"field":"hi"}}},
{"mark":{"type":"tick","orient":"horizontal","size":8},"encoding":{"y":{"field":"hi","type":"quantitative","title":"MFI (target-IgG)"}}}
]},
{"data":{"values":[
{"bracket":1,"dose":"0","level":3644,"step":1},
{"bracket":1,"dose":"5","level":3644,"step":2},
{"bracket":1,"dose":"5","level":3151,"step":3},
{"bracket":2,"dose":"0","level":3644,"step":1},
{"bracket":2,"dose":"0","level":4041,"step":2},
{"bracket":2,"dose":"20","level":4041,"step":3},
{"bracket":2,"dose":"20","level":2877,"step":4},
{"bracket":3,"dose":"0","level":3644,"step":1},
{"bracket":3,"dose":"0","level":4520,"step":2},
{"bracket":3,"dose":"50","level":4520,"step":3},
{"bracket":3,"dose":"50","level":2617,"step":4}]},
"mark":"line","encoding":{"y":{"field":"level","type":"quantitative","title":"MFI (target-IgG)"},"detail":{"field":"bracket"},"order":{"field":"step"}}},
{"data":{"values":[{"dose":"0","level":3815,"p":"=0.033"}]},"layer":[
{"mark":{"type":"text","align":"right","fontStyle":"italic","dx":18},"encoding":{"y":{"field":"level","type":"quantitative","title":"MFI (target-IgG)"},"text":{"value":"P"}}},
{"mark":{"type":"text","align":"left","dx":18},"encoding":{"y":{"field":"level","type":"quantitative","title":"MFI (target-IgG)"},"text":{"field":"p"}}}]},
{"data":{"values":[{"dose":"0","level":4240,"p":"=0.012"}]},"layer":[
{"mark":{"type":"text","align":"right","fontStyle":"italic","dx":56},"encoding":{"y":{"field":"level","type":"quantitative","title":"MFI (target-IgG)"},"text":{"value":"P"}}},
{"mark":{"type":"text","align":"left","dx":56},"encoding":{"y":{"field":"level","type":"quantitative","title":"MFI (target-IgG)"},"text":{"field":"p"}}}]},
{"data":{"values":[{"dose":"0","level":4726,"p":"=0.003"}]},"layer":[
{"mark":{"type":"text","align":"right","fontStyle":"italic","dx":86},"encoding":{"y":{"field":"level","type":"quantitative","title":"MFI (target-IgG)"},"text":{"value":"P"}}},
{"mark":{"type":"text","align":"left","dx":86},"encoding":{"y":{"field":"level","type":"quantitative","title":"MFI (target-IgG)"},"text":{"field":"p"}}}]}
]}
]}
]},
{"bounds":"flush","spacing":0.01,"hconcat":[
{"width":92,"height":1,"data":{"values":[]},"mark":"point","encoding":{}},
{"bounds":"flush","spacing":109,"hconcat":[
{"width":225,"height":227,"title":{"text":"migration","anchor":"middle","offset":11,"dx":8.5},
"encoding":{"x":{"field":"dose","type":"nominal","sort":null,"title":"AZD5991 (nM)","scale":{"domain":["0","5","20","50"],"paddingInner":0.59,"paddingOuter":0.3},"axis":{"labelPadding":6,"labelFontSize":12,"titleY":29}}},
"layer":[
{"data":{"values":[
{"dose":"0","pct":100,"lo":88.1,"hi":111.9},
{"dose":"5","pct":61.7,"lo":51.9,"hi":71.5},
{"dose":"20","pct":65.4,"lo":60.7,"hi":70.1},
{"dose":"50","pct":32.1,"lo":25.8,"hi":38.4}]},
"layer":[
{"mark":{"type":"bar","color":"#000"},"encoding":{"y":{"field":"pct","type":"quantitative","title":"% migration","scale":{"domain":[0,120],"nice":false},"axis":{"values":[0,40,80,120],"titleX":-37,"titleY":111}}}},
{"mark":"rule","encoding":{"y":{"field":"lo","type":"quantitative","title":"% migration"},"y2":{"field":"hi"}}},
{"mark":{"type":"tick","orient":"horizontal","size":8},"encoding":{"y":{"field":"hi","type":"quantitative","title":"% migration"}}}
]},
{"data":{"values":[
{"bracket":1,"dose":"0","level":98.9,"step":1},
{"bracket":1,"dose":"5","level":98.9,"step":2},
{"bracket":1,"dose":"5","level":79.8,"step":3},
{"bracket":2,"dose":"0","level":100,"step":1},
{"bracket":2,"dose":"0","level":109.3,"step":2},
{"bracket":2,"dose":"20","level":109.3,"step":3},
{"bracket":2,"dose":"20","level":78.6,"step":4},
{"bracket":3,"dose":"0","level":100,"step":1},
{"bracket":3,"dose":"0","level":120.4,"step":2},
{"bracket":3,"dose":"50","level":120.4,"step":3},
{"bracket":3,"dose":"50","level":71.5,"step":4}]},
"mark":"line","encoding":{"y":{"field":"level","type":"quantitative","title":"% migration"},"detail":{"field":"bracket"},"order":{"field":"step"}}},
{"data":{"values":[{"dose":"0","level":103.3,"p":"=0.003"}]},"layer":[
{"mark":{"type":"text","align":"right","fontStyle":"italic","dx":21},"encoding":{"y":{"field":"level","type":"quantitative","title":"% migration"},"text":{"value":"P"}}},
{"mark":{"type":"text","align":"left","dx":21},"encoding":{"y":{"field":"level","type":"quantitative","title":"% migration"},"text":{"field":"p"}}}]},
{"data":{"values":[{"dose":"0","level":114.2,"p":"=0.048"}]},"layer":[
{"mark":{"type":"text","align":"right","fontStyle":"italic","dx":50},"encoding":{"y":{"field":"level","type":"quantitative","title":"% migration"},"text":{"value":"P"}}},
{"mark":{"type":"text","align":"left","dx":50},"encoding":{"y":{"field":"level","type":"quantitative","title":"% migration"},"text":{"field":"p"}}}]},
{"data":{"values":[{"dose":"0","level":125.3,"p":"=0.006"}]},"layer":[
{"mark":{"type":"text","align":"right","fontStyle":"italic","dx":97},"encoding":{"y":{"field":"level","type":"quantitative","title":"% migration"},"text":{"value":"P"}}},
{"mark":{"type":"text","align":"left","dx":97},"encoding":{"y":{"field":"level","type":"quantitative","title":"% migration"},"text":{"field":"p"}}}]}
]},
{"bounds":"flush","spacing":0.01,"vconcat":[
{"width":1,"height":8,"data":{"values":[]},"mark":"point","encoding":{}},
{"width":226,"height":221,"title":{"text":"adhesion","anchor":"middle","offset":14.6,"dx":-5},
"encoding":{"x":{"field":"dose","type":"nominal","sort":null,"title":"AZD5991 (nM)","scale":{"domain":["0","5","20","50"],"paddingInner":0.59,"paddingOuter":0.32},"axis":{"labelPadding":3,"labelFontSize":12,"titleY":27}}},
"layer":[
{"data":{"values":[
{"dose":"0","pct":99.9,"lo":98.1,"hi":101.7},
{"dose":"5","pct":27,"lo":23,"hi":31},
{"dose":"20","pct":25,"lo":23.8,"hi":26.2},
{"dose":"50","pct":11.2,"lo":9.4,"hi":13}]},
"layer":[
{"mark":{"type":"bar","color":"#000"},"encoding":{"y":{"field":"pct","type":"quantitative","title":"% adhesion","scale":{"domain":[0,120],"nice":false},"axis":{"values":[0,40,80,120],"titleX":-38,"titleY":115}}}},
{"mark":"rule","encoding":{"y":{"field":"lo","type":"quantitative","title":"% adhesion"},"y2":{"field":"hi"}}},
{"mark":{"type":"tick","orient":"horizontal","size":8},"encoding":{"y":{"field":"hi","type":"quantitative","title":"% adhesion"}}}
]},
{"data":{"values":[
{"bracket":1,"dose":"0","level":101.9,"step":1},
{"bracket":1,"dose":"5","level":101.9,"step":2},
{"bracket":1,"dose":"5","level":52.1,"step":3},
{"bracket":2,"dose":"0","level":101.7,"step":1},
{"bracket":2,"dose":"0","level":111.7,"step":2},
{"bracket":2,"dose":"20","level":111.7,"step":3},
{"bracket":2,"dose":"20","level":62.4,"step":4},
{"bracket":3,"dose":"0","level":101.7,"step":1},
{"bracket":3,"dose":"0","level":121.8,"step":2},
{"bracket":3,"dose":"50","level":121.8,"step":3},
{"bracket":3,"dose":"50","level":34,"step":4}]},
"mark":"line","encoding":{"y":{"field":"level","type":"quantitative","title":"% adhesion"},"detail":{"field":"bracket"},"order":{"field":"step"}}},
{"data":{"values":[{"dose":"0","level":106.8,"p":"=0.004"}]},"layer":[
{"mark":{"type":"text","align":"right","fontStyle":"italic","dx":22},"encoding":{"y":{"field":"level","type":"quantitative","title":"% adhesion"},"text":{"value":"P"}}},
{"mark":{"type":"text","align":"left","dx":22},"encoding":{"y":{"field":"level","type":"quantitative","title":"% adhesion"},"text":{"field":"p"}}}]},
{"data":{"values":[{"dose":"0","level":117.1,"p":"=0.0002"}]},"layer":[
{"mark":{"type":"text","align":"right","fontStyle":"italic","dx":46},"encoding":{"y":{"field":"level","type":"quantitative","title":"% adhesion"},"text":{"value":"P"}}},
{"mark":{"type":"text","align":"left","dx":46},"encoding":{"y":{"field":"level","type":"quantitative","title":"% adhesion"},"text":{"field":"p"}}}]},
{"data":{"values":[{"dose":"0","level":127.3,"p":"=0.0005"}]},"layer":[
{"mark":{"type":"text","align":"right","fontStyle":"italic","dx":78},"encoding":{"y":{"field":"level","type":"quantitative","title":"% adhesion"},"text":{"value":"P"}}},
{"mark":{"type":"text","align":"left","dx":78},"encoding":{"y":{"field":"level","type":"quantitative","title":"% adhesion"},"text":{"field":"p"}}}]}
]}
]}
]}
]}
]},
{"width":679,"height":73.5,"data":{"values":[{"panel":"D","heading":"OCI-AML3 cells treated with venetoclax"}]},
"layer":[
{"mark":{"type":"text","fontSize":15,"fontWeight":"normal","color":"#5b7b9a"},"encoding":{"x":{"datum":38,"type":"quantitative","scale":{"domain":[0,679],"nice":false,"zero":false},"axis":null},"y":{"datum":45.5,"type":"quantitative","scale":{"domain":[0,73.5],"nice":false,"zero":false,"reverse":true},"axis":null},"text":{"field":"panel"}}},
{"mark":{"type":"text","fontSize":16},"encoding":{"x":{"datum":375,"type":"quantitative"},"y":{"datum":38.5,"type":"quantitative"},"text":{"field":"heading"}}},
{"mark":{"type":"rule","strokeWidth":1.2},"encoding":{"x":{"datum":226,"type":"quantitative"},"x2":{"datum":523},"y":{"datum":46.5,"type":"quantitative"}}}
]},
{"spacing":33.5,"vconcat":[
{"bounds":"flush","spacing":0.01,"hconcat":[
{"width":90,"height":1,"data":{"values":[]},"mark":"point","encoding":{}},
{"bounds":"flush","spacing":68,"hconcat":[
{"width":275,"height":197,"title":{"text":["MCL-1 (grey)","CXCR4 (black)"],"anchor":"start","offset":0,"dy":3.7,"dx":-8,"fontSize":13,"lineHeight":15},
"encoding":{"x":{"field":"dose","type":"nominal","sort":null,"title":"venetoclax (nM)","scale":{"domain":["0","100","400","1,000"],"paddingInner":0,"paddingOuter":0},"axis":{"labelPadding":7,"labelFontSize":12,"titleY":30}},
"xOffset":{"field":"marker","type":"nominal","sort":null,"scale":{"domain":["MCL-1","CXCR4"],"paddingInner":0.2,"paddingOuter":0.78}}},
"layer":[
{"data":{"values":[
{"dose":"0","marker":"MCL-1","mfi":1173,"lo":1158,"hi":1188},
{"dose":"0","marker":"CXCR4","mfi":3097,"lo":3043,"hi":3151},
{"dose":"100","marker":"MCL-1","mfi":1476,"lo":1461,"hi":1491},
{"dose":"100","marker":"CXCR4","mfi":2200,"lo":2185,"hi":2215},
{"dose":"400","marker":"MCL-1","mfi":1378,"lo":1363,"hi":1393},
{"dose":"400","marker":"CXCR4","mfi":2340,"lo":2330,"hi":2350},
{"dose":"1,000","marker":"MCL-1","mfi":1540,"lo":1520,"hi":1560},
{"dose":"1,000","marker":"CXCR4","mfi":2427,"lo":2415,"hi":2439}]},
"layer":[
{"mark":"bar","encoding":{"y":{"field":"mfi","type":"quantitative","title":"MFI (target-IgG)","scale":{"domain":[0,3200],"nice":false},"axis":{"values":[0,800,1600,2400,3200],"labelExpr":"format(datum.value, ',')","titleX":-57,"titleY":72}},"color":{"condition":[{"test":"datum.marker === 'MCL-1'","value":"#d3d3d3"}],"value":"#000000"}}},
{"mark":"rule","encoding":{"y":{"field":"lo","type":"quantitative","title":"MFI (target-IgG)"},"y2":{"field":"hi"}}},
{"mark":{"type":"tick","orient":"horizontal","size":7},"encoding":{"y":{"field":"lo","type":"quantitative","title":"MFI (target-IgG)"}}},
{"mark":{"type":"tick","orient":"horizontal","size":7},"encoding":{"y":{"field":"hi","type":"quantitative","title":"MFI (target-IgG)"}}}
]},
{"data":{"values":[
{"bracket":1,"dose":"0","marker":"CXCR4","level":3151,"step":1},
{"bracket":1,"dose":"0","marker":"CXCR4","level":3189,"step":2},
{"bracket":1,"dose":"100","marker":"CXCR4","level":3189,"step":3},
{"bracket":1,"dose":"100","marker":"CXCR4","level":2746,"step":4},
{"bracket":2,"dose":"0","marker":"CXCR4","level":3151,"step":1},
{"bracket":2,"dose":"0","marker":"CXCR4","level":3567,"step":2},
{"bracket":2,"dose":"400","marker":"CXCR4","level":3567,"step":3},
{"bracket":2,"dose":"400","marker":"CXCR4","level":2659,"step":4},
{"bracket":3,"dose":"0","marker":"CXCR4","level":3151,"step":1},
{"bracket":3,"dose":"0","marker":"CXCR4","level":3902,"step":2},
{"bracket":3,"dose":"1,000","marker":"CXCR4","level":3902,"step":3},
{"bracket":3,"dose":"1,000","marker":"CXCR4","level":2930,"step":4}]},
"mark":"line","encoding":{"y":{"field":"level","type":"quantitative","title":"MFI (target-IgG)"},"detail":{"field":"bracket"},"order":{"field":"step"}}},
{"data":{"values":[{"dose":"0","marker":"CXCR4","level":3378,"p":"=0.005"}]},"layer":[
{"mark":{"type":"text","align":"right","fontStyle":"italic","dx":17.6},"encoding":{"y":{"field":"level","type":"quantitative","title":"MFI (target-IgG)"},"text":{"value":"P"}}},
{"mark":{"type":"text","align":"left","dx":17.6},"encoding":{"y":{"field":"level","type":"quantitative","title":"MFI (target-IgG)"},"text":{"field":"p"}}}]},
{"data":{"values":[{"dose":"0","marker":"CXCR4","level":3730,"p":"=0.005"}]},"layer":[
{"mark":{"type":"text","align":"right","fontStyle":"italic","dx":55.6},"encoding":{"y":{"field":"level","type":"quantitative","title":"MFI (target-IgG)"},"text":{"value":"P"}}},
{"mark":{"type":"text","align":"left","dx":55.6},"encoding":{"y":{"field":"level","type":"quantitative","title":"MFI (target-IgG)"},"text":{"field":"p"}}}]},
{"data":{"values":[{"dose":"0","marker":"CXCR4","level":4081,"p":"=0.008"}]},"layer":[
{"mark":{"type":"text","align":"right","fontStyle":"italic","dx":114.6},"encoding":{"y":{"field":"level","type":"quantitative","title":"MFI (target-IgG)"},"text":{"value":"P"}}},
{"mark":{"type":"text","align":"left","dx":114.6},"encoding":{"y":{"field":"level","type":"quantitative","title":"MFI (target-IgG)"},"text":{"field":"p"}}}]}
]},
{"width":227,"height":199,"title":{"text":"CD44","anchor":"start","offset":28.4,"dx":31,"fontSize":13},
"encoding":{"x":{"field":"dose","type":"nominal","sort":null,"title":"venetoclax (nM)","scale":{"domain":["0","100","400","1,000"],"paddingInner":0.61,"paddingOuter":0.33},"axis":{"labelPadding":5,"labelFontSize":12,"titleY":28}}},
"data":{"values":[
{"dose":"0","mfi":2659,"lo":2577,"hi":2741},
{"dose":"100","mfi":2782,"lo":2746,"hi":2818},
{"dose":"400","mfi":2836,"lo":2672,"hi":3000},
{"dose":"1,000","mfi":1882,"lo":1505,"hi":2259}]},
"layer":[
{"mark":{"type":"bar","color":"#000"},"encoding":{"y":{"field":"mfi","type":"quantitative","title":"MFI (target-IgG)","scale":{"domain":[0,3000],"nice":false},"axis":{"values":[0,1000,2000,3000],"labelExpr":"format(datum.value, ',')","titleX":-54,"titleY":45}}}},
{"mark":"rule","encoding":{"y":{"field":"lo","type":"quantitative","title":"MFI (target-IgG)"},"y2":{"field":"hi"}}},
{"mark":{"type":"tick","orient":"horizontal","size":8},"encoding":{"y":{"field":"hi","type":"quantitative","title":"MFI (target-IgG)"}}}
]}
]}
]},
{"bounds":"flush","spacing":0.01,"hconcat":[
{"width":96,"height":1,"data":{"values":[]},"mark":"point","encoding":{}},
{"bounds":"flush","spacing":55,"hconcat":[
{"width":225,"height":203,"title":{"text":"migration","anchor":"middle","offset":26.8,"dx":2.5},
"encoding":{"x":{"field":"dose","type":"nominal","sort":null,"title":"venetoclax (nM)","scale":{"domain":["0","100","400","1,000"],"paddingInner":0.6,"paddingOuter":0.3},"axis":{"labelPadding":7,"labelFontSize":12,"titleY":31}}},
"data":{"values":[
{"dose":"0","pct":99.7,"lo":97.6,"hi":101.8},
{"dose":"100","pct":117.4,"lo":114.8,"hi":120},
{"dose":"400","pct":106.2,"lo":104.8,"hi":107.6},
{"dose":"1,000","pct":114.9,"lo":113.8,"hi":116}]},
"layer":[
{"mark":{"type":"bar","color":"#000"},"encoding":{"y":{"field":"pct","type":"quantitative","title":"% migration","scale":{"domain":[0,120],"nice":false},"axis":{"values":[0,40,80,120],"titleX":-39,"titleY":114}}}},
{"mark":"rule","encoding":{"y":{"field":"lo","type":"quantitative","title":"% migration"},"y2":{"field":"hi"}}},
{"mark":{"type":"tick","orient":"horizontal","size":8},"encoding":{"y":{"field":"hi","type":"quantitative","title":"% migration"}}}
]},
{"bounds":"flush","spacing":0.01,"vconcat":[
{"width":1,"height":2,"data":{"values":[]},"mark":"point","encoding":{}},
{"width":228,"height":198,"title":{"text":"adhesion","anchor":"middle","offset":27,"dx":3},
"encoding":{"x":{"field":"dose","type":"nominal","sort":null,"title":"venetoclax (nM)","scale":{"domain":["0","100","400","1,000"],"paddingInner":0.61,"paddingOuter":0.3},"axis":{"labelPadding":8,"labelFontSize":12,"titleY":33}}},
"data":{"values":[
{"dose":"0","pct":99.8,"lo":93.7,"hi":105.9},
{"dose":"100","pct":180,"lo":179.4,"hi":180.6},
{"dose":"400","pct":173.6,"lo":169,"hi":178.2},
{"dose":"1,000","pct":152.8,"lo":149.2,"hi":156.4}]},
"layer":[
{"mark":{"type":"bar","color":"#000"},"encoding":{"y":{"field":"pct","type":"quantitative","title":"% adhesion","scale":{"domain":[0,180],"nice":false},"axis":{"values":[0,60,120,180],"titleX":-46,"titleY":86}}}},
{"mark":"rule","encoding":{"y":{"field":"lo","type":"quantitative","title":"% adhesion"},"y2":{"field":"hi"}}},
{"mark":{"type":"tick","orient":"horizontal","size":8},"encoding":{"y":{"field":"hi","type":"quantitative","title":"% adhesion"}}}
]}
]}
]}
]}
]}
]
}
